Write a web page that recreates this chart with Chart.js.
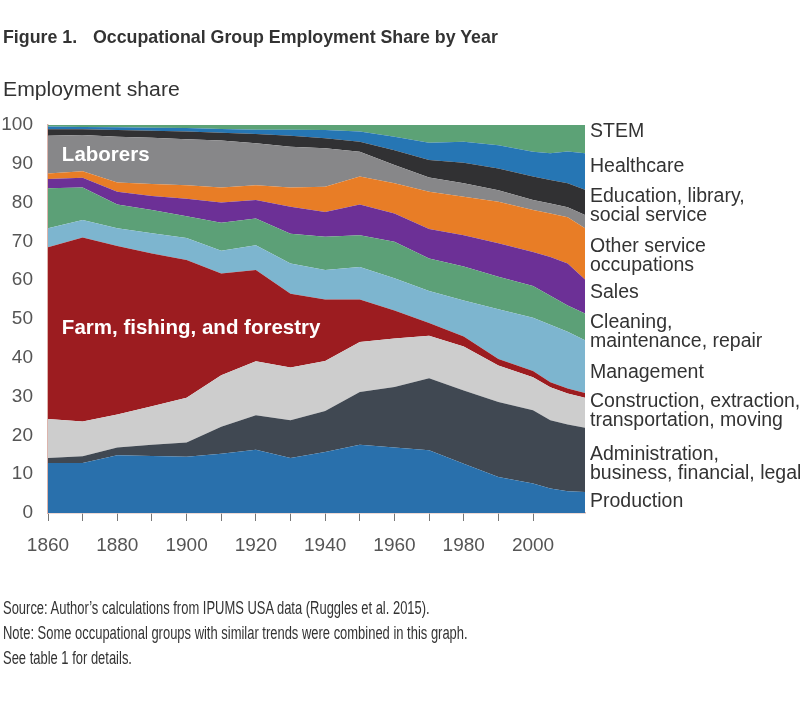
<!DOCTYPE html>
<html>
<head>
<meta charset="utf-8">
<script src="https://cdn.jsdelivr.net/npm/chart.js@4/dist/chart.umd.min.js"></script>
<style>
  body { margin: 0; background: #fff; font-family: "Liberation Sans", Arial, sans-serif; color: #333; }
  #wrap { position: relative; width: 800px; height: 711px; overflow: hidden; }
  #graph { position: absolute; left: 0; top: 0; }
  .txt { position: absolute; white-space: nowrap; line-height: 1; }
  .title { font-weight: bold; font-size: 17.8px; top: 29px; }
  .ytitle { font-size: 20px; left: 3px; top: 79px; transform: scaleX(1.06); transform-origin: 0 0; }
  .note { font-size: 18px; left: 3px; transform: scaleX(0.72); transform-origin: 0 0; }
</style>
</head>
<body>
<div id="wrap">
  <canvas id="graph" width="800" height="711"></canvas>
  <div class="txt title" style="left:3px">Figure 1.</div>
  <div class="txt title" style="left:93px">Occupational Group Employment Share by Year</div>
  <div class="txt ytitle">Employment share</div>
  <div class="txt note" style="top:599px">Source: Author’s calculations from IPUMS USA data (Ruggles et al. 2015).</div>
  <div class="txt note" style="top:624px">Note: Some occupational groups with similar trends were combined in this graph.</div>
  <div class="txt note" style="top:649px">See table 1 for details.</div>
</div>
<script>
// census years (share of employment, %)
let years = [1860, 1870, 1880, 1890, 1900, 1910, 1920, 1930, 1940, 1950, 1960, 1970, 1980, 1990, 2000, 2005, 2010, 2015];

let production     = [12.9, 12.9, 14.9, 14.7, 14.5, 15.3, 16.3, 14.2, 15.7, 17.6, 16.9, 16.2, 12.7, 9.3, 7.6, 6.3, 5.6, 5.4];
let administration = [1.3, 1.7, 2.0, 2.9, 3.7, 6.9, 8.9, 9.7, 10.6, 13.6, 15.6, 18.5, 18.9, 19.3, 18.9, 17.6, 17.2, 16.6];
let construction   = [10.0, 9.0, 8.5, 9.9, 11.5, 13.3, 13.9, 13.6, 12.9, 12.9, 12.5, 11.0, 11.3, 9.4, 8.5, 8.5, 8.0, 7.7];
let farm           = [44.3, 47.4, 43.4, 39.4, 35.5, 26.2, 23.5, 19.0, 15.8, 10.9, 7.2, 3.3, 2.6, 1.7, 1.6, 1.3, 1.3, 1.2];
let management     = [4.9, 4.5, 4.6, 5.2, 5.7, 5.9, 6.4, 7.8, 7.6, 8.4, 8.3, 8.2, 9.3, 12.8, 13.7, 14.8, 14.6, 13.6];
let cleaning       = [10.3, 8.4, 6.1, 6.0, 5.6, 7.2, 6.9, 7.7, 8.6, 8.2, 9.4, 8.4, 8.7, 8.4, 8.2, 7.5, 6.8, 6.9];
let sales          = [2.4, 2.5, 3.3, 3.6, 4.5, 5.2, 4.8, 6.9, 6.4, 7.9, 7.3, 7.6, 8.1, 8.6, 8.8, 10.0, 10.8, 8.8];
let otherService   = [1.4, 1.7, 2.4, 3.1, 3.5, 3.9, 3.8, 5.0, 6.5, 7.2, 7.8, 9.6, 9.9, 10.7, 10.8, 11.2, 11.9, 13.2];
let laborers       = [9.7, 9.3, 11.8, 11.9, 11.8, 12.1, 10.8, 10.5, 9.9, 6.4, 4.7, 3.7, 3.5, 3.0, 2.6, 2.6, 2.6, 3.4];
let education      = [1.7, 1.5, 1.7, 1.8, 2.0, 2.0, 2.4, 2.8, 2.6, 2.6, 3.8, 4.5, 5.3, 5.6, 6.0, 6.0, 6.2, 6.5];
let healthcare     = [0.7, 0.6, 0.7, 0.8, 0.9, 1.0, 1.1, 1.6, 2.1, 2.6, 3.5, 4.4, 5.4, 6.0, 6.4, 6.9, 8.2, 9.4];
let stem           = [0.4, 0.5, 0.6, 0.7, 0.8, 1.0, 1.2, 1.2, 1.3, 1.7, 3.0, 4.6, 4.3, 5.2, 6.9, 7.3, 6.9, 7.3];

let series = [production, administration, construction, farm, management, cleaning,
              sales, otherService, laborers, education, healthcare, stem];
let seriesNames = ["Production", "Administration", "Construction", "Farm", "Management", "Cleaning",
                   "Sales", "Other service", "Laborers", "Education", "Healthcare", "STEM"];
let seriesColors = ["#2970ac", "#404852", "#cdcdcd", "#9c1c20", "#7db5cf", "#5ca077",
                    "#6c3096", "#e87d26", "#878789", "#313133", "#2676b4", "#5ca276"];

// labels to the right of the plot: lines of text and the share they sit at
let sideLabels = [
  [["STEM"], 98.2],
  [["Healthcare"], 89.2],
  [["Education, library,", "social service"], 79.1],
  [["Other service", "occupations"], 66.1],
  [["Sales"], 56.7],
  [["Cleaning,", "maintenance, repair"], 46.7],
  [["Management"], 36.3],
  [["Construction, extraction,", "transportation, moving"], 26.2],
  [["Administration,", "business, financial, legal"], 12.6],
  [["Production"], 3.0]
];
let innerLabels = [["Laborers", 1864, 92.2], ["Farm, fishing, and forestry", 1864, 47.6]];

const FONT = '"Liberation Sans", Arial, sans-serif';

let labelPlugin = {
  id: "labels",
  afterDraw(chart) {
    let ctx = chart.ctx;
    let xs = chart.scales.x, ys = chart.scales.y;
    ctx.save();
    ctx.textBaseline = "middle";
    ctx.textAlign = "left";
    ctx.fillStyle = "#333";
    ctx.font = "19.5px " + FONT;
    sideLabels.forEach(function (l) {
      let lines = l[0];
      let mid = ys.getPixelForValue(l[1]);
      lines.forEach(function (t, i) {
        ctx.fillText(t, chart.chartArea.right + 5, mid + (i - (lines.length - 1) / 2) * 19);
      });
    });
    ctx.fillStyle = "#fff";
    ctx.font = "bold 20.5px " + FONT;
    innerLabels.forEach(function (l) {
      ctx.fillText(l[0], xs.getPixelForValue(l[1]), ys.getPixelForValue(l[2]));
    });
    ctx.restore();
  }
};

new Chart("graph", {
  type: "line",
  data: {
    datasets: series.map(function (s, i) {
      return {
        label: seriesNames[i],
        data: years.map(function (yr, j) { return { x: yr, y: s[j] }; }),
        backgroundColor: seriesColors[i],
        borderWidth: 0,
        pointRadius: 0,
        fill: i === 0 ? "origin" : "-1"
      };
    })
  },
  options: {
    responsive: false,
    animation: false,
    devicePixelRatio: 1,
    layout: { padding: { top: 125, right: 215, bottom: 158, left: 0 } },
    plugins: { legend: { display: false }, tooltip: { enabled: false } },
    scales: {
      x: {
        type: "linear",
        min: 1860,
        max: 2015,
        afterBuildTicks: function (scale) {
          scale.ticks = scale.ticks.filter(function (t) { return t.value % 10 === 0; });
        },
        afterFit: function (scale) { scale.height = 40; },
        ticks: {
          stepSize: 10,
          autoSkip: false,
          maxRotation: 0,
          padding: 13,
          color: "#555",
          font: { family: FONT, size: 19 },
          callback: function (v) { return (v - 1860) % 20 === 0 && v <= 2000 ? String(v) : ""; }
        },
        grid: { drawOnChartArea: false, drawTicks: true, tickLength: 8, color: "#777" },
        border: { color: "#dcb4ac", width: 1.5 }
      },
      y: {
        stacked: true,
        min: 0,
        max: 100,
        afterFit: function (scale) { scale.width = 48; },
        ticks: { stepSize: 10, padding: 15, color: "#555", font: { family: FONT, size: 19 } },
        grid: { display: false, drawTicks: false },
        border: { color: "#dcb4ac", width: 1.5 }
      }
    }
  },
  plugins: [labelPlugin]
});
</script>
</body>
</html>
